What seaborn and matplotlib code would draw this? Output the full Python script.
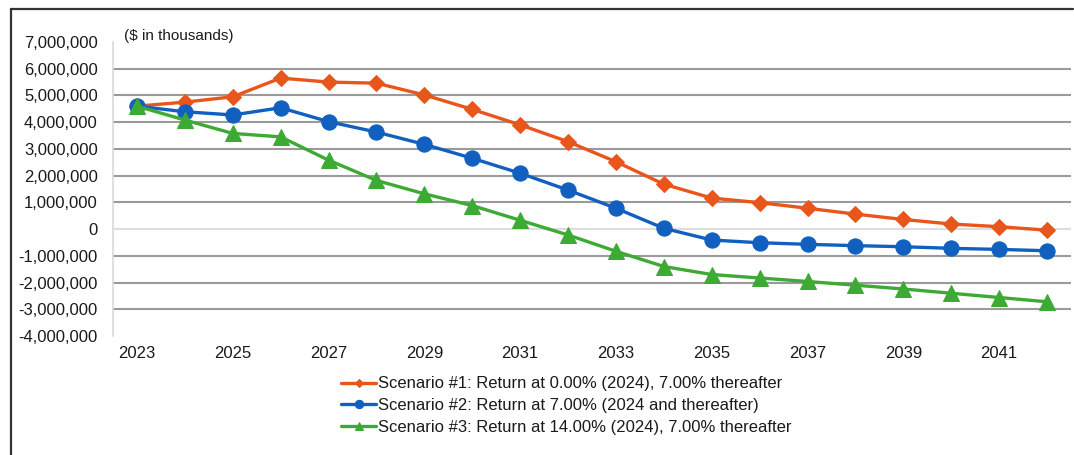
import matplotlib
matplotlib.use("Agg")
import matplotlib.pyplot as plt
import seaborn as sns
from matplotlib.lines import Line2D
from matplotlib.ticker import FuncFormatter

# values in $ thousands
years = list(range(2023, 2043))
scenario1 = [4600000, 4750000, 4950000, 5650000, 5500000, 5460000, 5020000, 4480000,
             3900000, 3270000, 2520000, 1680000, 1160000, 990000, 780000, 560000,
             360000, 190000, 90000, -40000]
scenario2 = [4600000, 4390000, 4270000, 4540000, 4020000, 3630000, 3170000, 2650000,
             2090000, 1460000, 780000, 30000, -410000, -510000, -570000, -620000,
             -660000, -720000, -760000, -810000]
scenario3 = [4600000, 4080000, 3580000, 3450000, 2580000, 1820000, 1320000, 880000,
             330000, -220000, -830000, -1400000, -1700000, -1830000, -1960000, -2100000,
             -2240000, -2400000, -2560000, -2720000]
labels = ["Scenario #1: Return at 0.00% (2024), 7.00% thereafter",
          "Scenario #2: Return at 7.00% (2024 and thereafter)",
          "Scenario #3: Return at 14.00% (2024), 7.00% thereafter"]
colors = ["#E8561C", "#1160C0", "#3DAA33"]
markers = ["D", "o", "^"]
msizes = [8, 11, 11]
xtick_years = list(range(2023, 2042, 2))
ytick_vals = list(range(-4000000, 7000001, 1000000))

sns.set_style("white")
plt.rcParams["font.family"] = ["Liberation Sans", "DejaVu Sans"]
text_color = "#1a1a1a"

fig = plt.figure(figsize=(10.74, 4.55), dpi=100)
ax = fig.add_axes([113 / 1074, 1 - 336 / 455, 958 / 1074, 294 / 455])

for vals, lab, c, m, s in zip([scenario1, scenario2, scenario3], labels, colors, markers, msizes):
    sns.lineplot(x=years, y=vals, ax=ax, color=c, marker=m, markersize=s,
                 markeredgecolor=c, linewidth=2.4, label=lab, zorder=3)

ax.set_xlim(2022.5, 2042.5)
ax.set_ylim(-4000000, 7000000)
ax.set_xticks(xtick_years)
ax.set_yticks(ytick_vals)
ax.yaxis.set_major_formatter(FuncFormatter(lambda v, p: f"{int(v):,}"))
ax.tick_params(axis="y", length=0, pad=11, labelsize=12, labelcolor=text_color)
ax.tick_params(axis="x", length=0, pad=7, labelsize=12, labelcolor=text_color)

ax.yaxis.grid(True, color="#9a9a9a", linewidth=1.5)
for val, gl in zip(ytick_vals, ax.get_ygridlines()):
    if val in (-4000000, 7000000):
        gl.set_visible(False)
    elif val == 0:
        gl.set_color("#dddddd")
for side in ["top", "right", "bottom"]:
    ax.spines[side].set_visible(False)
ax.spines["left"].set_color("#d9d9d9")
ax.spines["left"].set_linewidth(1.2)

ax.text(0.011, 1.022, "($ in thousands)", transform=ax.transAxes, fontsize=11,
        color=text_color, va="center", ha="left")

leg = ax.legend(loc="upper left", bbox_to_anchor=(333 / 1074, 1 - 368 / 455),
                bbox_transform=fig.transFigure, frameon=False, fontsize=12,
                handlelength=2.1, handletextpad=0.1, labelspacing=0.4,
                borderpad=0, markerscale=0.55)
for t in leg.get_texts():
    t.set_color(text_color)

# outer frame (top and left edges visible in the reference)
fig.add_artist(Line2D([11 / 1074, 1073 / 1074], [1 - 9 / 455, 1 - 9 / 455],
                      transform=fig.transFigure, color="#333333", linewidth=1.6))
fig.add_artist(Line2D([11 / 1074, 11 / 1074], [0, 1 - 9 / 455],
                      transform=fig.transFigure, color="#333333", linewidth=1.6))

fig.savefig("out.png", dpi=100)
